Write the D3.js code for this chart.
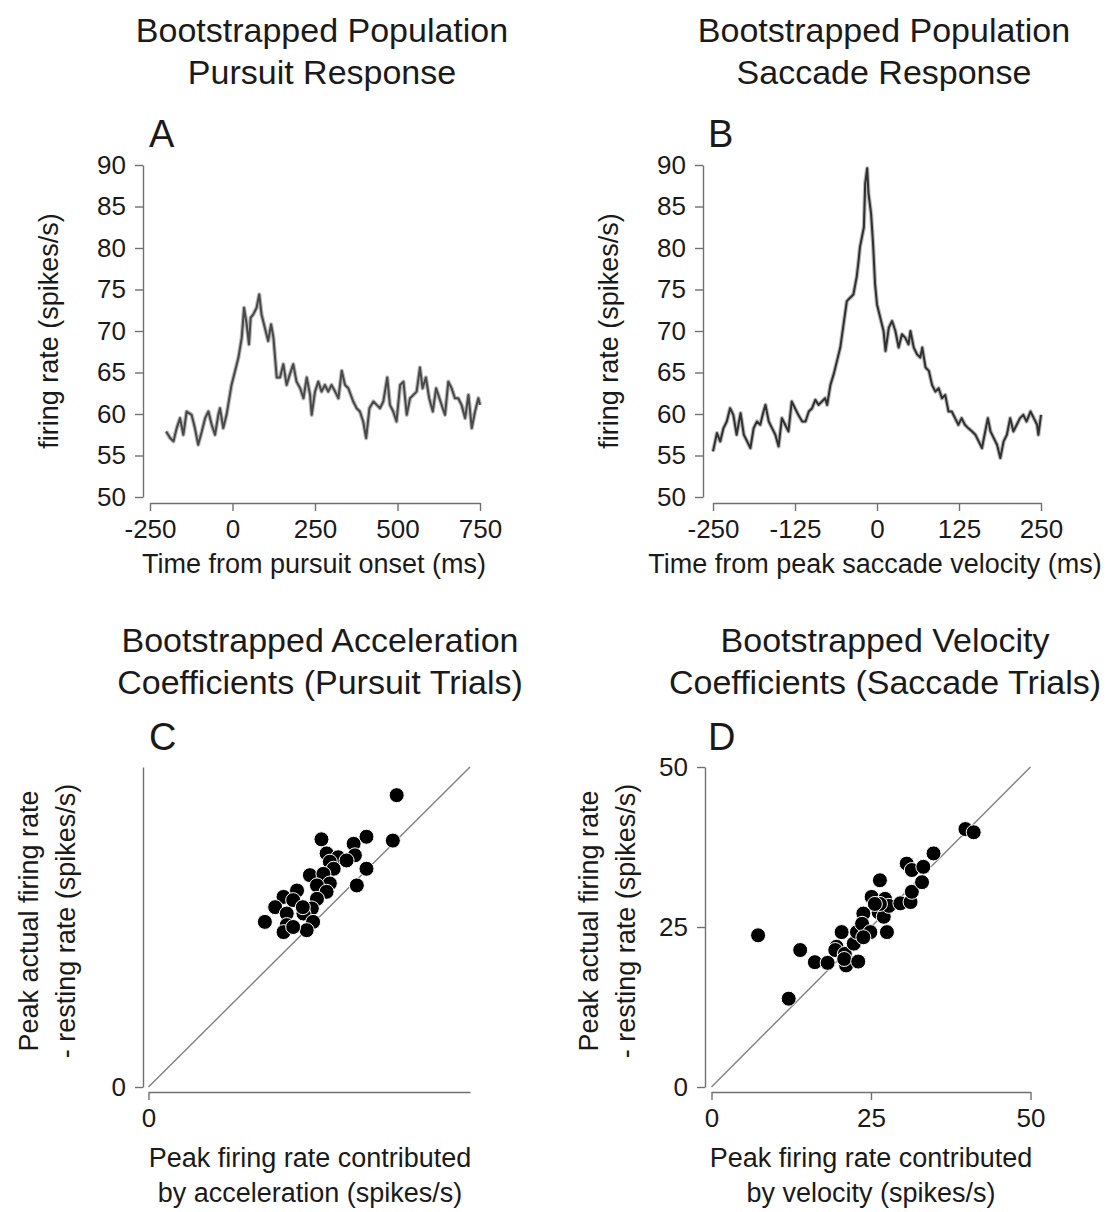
<!DOCTYPE html>
<html><head><meta charset="utf-8">
<script src="https://cdn.jsdelivr.net/npm/d3@7"></script>
<style>
html,body{margin:0;padding:0;background:#fff;}
svg{display:block;font-family:"Liberation Sans",Arial,sans-serif;}
</style></head>
<body>
<svg id="fig" width="1114" height="1212"></svg>
<script>
// ---------- DATA ----------
// Panel A: bootstrapped population pursuit response
const timeA = [-201,-189,-179,-169,-159,-149,-139,-124,-114,-104,
  -93,-83,-73,-63,-53,-43,-38,-28,-18,-13,
  -3,8,18,28,35,43,50,55,63,73,
  81,88,98,108,117,124,134,144,154,164,
  174,184,194,205,215,225,235,240,250,260,
  270,280,290,300,311,321,331,341,351,366,
  376,386,396,405,415,427,437,447,457,469,
  477,487,497,508,518,528,538,548,558,568,
  576,586,596,607,617,627,637,644,654,664,
  674,684,694,705,715,725,735,745,750];
const rateA = [57.9,57.1,56.7,58.3,59.5,57.5,60.3,59.9,58.3,56.3,
  57.9,59.5,60.3,58.7,57.5,59.9,60.7,58.3,59.9,61.1,
  63.5,65.2,66.8,69.2,72.8,70.8,68.4,71.6,72.0,72.8,
  74.4,72.0,70.4,68.8,70.8,69.2,64.4,64.4,66.0,63.5,
  64.8,66.0,63.9,63.1,61.9,64.4,62.3,59.9,62.7,63.9,
  62.7,63.5,62.7,63.5,62.7,61.9,65.2,63.5,63.1,61.5,
  60.7,60.3,59.1,57.1,60.7,61.5,61.1,60.7,61.5,64.4,
  61.1,60.3,59.1,63.5,63.9,59.9,61.9,62.3,62.7,65.6,
  63.1,64.4,61.9,60.3,63.1,61.9,60.7,59.9,63.9,63.1,
  61.9,61.9,61.1,59.5,62.3,58.3,60.3,61.9,61.1];

// Panel B: bootstrapped population saccade response
const timeB = [-250,-244,-239,-234,-229,-224,-219,-214,-208,-203,
  -198,-193,-188,-183,-178,-173,-170,-165,-160,-155,
  -150,-145,-140,-135,-130,-125,-120,-114,-109,-104,
  -99,-94,-89,-84,-79,-76,-71,-66,-61,-56,
  -51,-46,-41,-36,-31,-28,-26,-20,-18,-15,
  -13,-9,-6,-3,0,5,10,13,18,23,
  28,33,38,43,48,51,56,61,66,69,
  74,79,84,89,94,99,104,109,114,119,
  124,129,134,139,145,150,155,160,165,169,
  173,178,183,188,193,198,203,208,213,218,
  223,228,234,239,244,246,250];
const rateB = [55.5,57.7,56.7,58.3,59.1,60.7,59.9,57.5,60.1,57.5,
  56.7,55.9,58.3,59.1,58.7,60.3,61.1,59.1,58.3,57.5,
  56.1,59.5,58.7,57.9,61.5,60.7,59.9,59.1,59.1,60.3,
  60.7,61.7,61.1,61.5,61.9,61.1,63.5,64.8,66.4,68.0,
  70.8,73.6,74.0,74.4,76.5,78.5,80.1,82.5,87.8,89.6,
  86.6,84.1,80.5,75.7,73.2,71.6,70.0,67.6,70.4,71.2,
  70.0,68.0,69.6,69.2,68.4,70.0,68.0,67.2,66.8,68.0,
  65.6,65.2,63.5,62.7,63.1,61.9,62.3,60.3,60.3,59.5,
  58.7,59.5,58.7,58.3,57.9,57.5,56.7,55.9,57.9,59.5,
  57.9,57.1,56.3,54.7,56.7,57.5,59.5,57.9,58.7,59.5,
  59.9,59.1,60.3,59.5,58.7,57.5,59.9];

// Panel C: acceleration coefficients (pursuit trials)
const accelContrib = [38.6,38.0,33.9,31.9,32.1,33.9,32.4,26.9,27.7,29.5,30.8,28.2,28.8,25.1,27.2,28.2,26.2,
  23.1,27.7,21.0,22.5,26.2,19.7,21.5,25.4,24.1,18.1,21.5,25.6,21.0,24.6,22.5,24.0];
const accelActual = [45.6,38.5,39.1,38.0,36.2,34.1,31.5,38.7,36.5,35.9,35.4,35.2,34.1,33.1,33.3,31.8,31.5,
  30.7,30.5,29.7,29.2,29.4,28.1,27.1,27.9,27.1,25.8,25.3,25.8,24.2,24.5,25.0,28.1];

// Panel D: velocity coefficients (saccade trials)
const veloContrib = [7.3,12.1,13.9,16.2,18.2,19.6,19.4,20.4,20.9,21.1,20.8,23.0,22.3,22.8,23.8,23.6,24.9,25.1,
  26.2,26.4,27.2,27.5,27.0,27.8,29.6,31.2,31.4,30.6,31.4,33.0,33.2,34.8,39.8,41.1,26.4,25.6,23.8];
const veloActual = [23.7,13.8,21.4,19.5,19.4,21.9,21.4,24.2,20.8,19.0,20.0,19.6,22.4,24.2,27.1,25.5,24.2,29.7,
  27.3,32.3,29.4,24.2,26.6,28.3,28.7,28.9,30.5,34.9,33.9,32.0,34.4,36.5,40.3,39.8,28.6,28.6,23.4];

const ticksRate = [50,55,60,65,70,75,80,85,90];
const ticksTimeA = [-250,0,250,500,750];
const ticksTimeB = [-250,-125,0,125,250];
const ticksC = [0];
const ticksD = [0,25,50];

// ---------- DRAWING ----------
const svg = d3.select("#fig");
const AX = "#707070", TXT = "#1a1a1a";
const TICK_FS = 26, LAB_FS = 27, TITLE_FS = 34, LET_FS = 38;
const fmt = d => String(d);   // plain hyphen-minus, as in the reference

function styleAxis(g){
  g.select(".domain").attr("stroke", AX).attr("stroke-width", 1.4);
  g.selectAll(".tick line").attr("stroke", AX).attr("stroke-width", 1.4);
  g.selectAll(".tick text").attr("fill", TXT).style("font-size", TICK_FS+"px")
    .style("font-family", '"Liberation Sans", Arial, sans-serif');
}
function text(x, y, s, fs, anchor, rot){
  const t = svg.append("text").attr("x", x).attr("y", y).text(s)
    .attr("fill", TXT).style("font-size", fs+"px").attr("text-anchor", anchor||"middle");
  if (rot) t.attr("transform", `rotate(${rot},${x},${y})`);
  return t;
}

// Scales
const yA = d3.scaleLinear().domain([50,90]).range([497,165]);
const xA = d3.scaleLinear().domain([-250,750]).range([150,480]);
const yB = d3.scaleLinear().domain([50,90]).range([497,165]);
const xB = d3.scaleLinear().domain([-250,250]).range([713,1041]);
const xC = d3.scaleLinear().domain([0,50]).range([148.5,470]);
const yC = d3.scaleLinear().domain([0,50]).range([1087,767]);
const xD = d3.scaleLinear().domain([0,50]).range([711.5,1030.5]);
const yD = d3.scaleLinear().domain([0,50]).range([1087,767]);

function lineChart(x, y, xs, ys, xTicks, yAxisX, xAxisY, col){
  svg.append("g").attr("transform", `translate(${yAxisX},0)`)
    .call(d3.axisLeft(y).tickValues(ticksRate).tickSize(8).tickSizeOuter(0).tickPadding(9).tickFormat(fmt)).call(styleAxis);
  svg.append("g").attr("transform", `translate(0,${xAxisY})`)
    .call(d3.axisBottom(x).tickValues(xTicks).tickSize(8).tickSizeOuter(0).tickPadding(9).tickFormat(fmt)).call(styleAxis);
  const pts = xs.map((t,i)=>[t, ys[i]]);
  const ln = d3.line().x(d=>x(d[0])).y(d=>y(d[1]));
  svg.append("path").datum(pts).attr("d", ln).attr("fill","none")
    .attr("stroke", "#8a8a8a").attr("stroke-width", 4.2).attr("stroke-linejoin","round").attr("opacity",0.6);
  svg.append("path").datum(pts).attr("d", ln).attr("fill","none")
    .attr("stroke", col).attr("stroke-width", 2).attr("stroke-linejoin","round");
}
lineChart(xA, yA, timeA, rateA, ticksTimeA, 143, 503, "#484848");
lineChart(xB, yB, timeB, rateB, ticksTimeB, 703, 503, "#303030");

function scatter(x, y, xs, ys, ticks, yAxisX, xAxisY){
  svg.append("g").attr("transform", `translate(${yAxisX},0)`)
    .call(d3.axisLeft(y).tickValues(ticks).tickSize(8).tickSizeOuter(0).tickPadding(9).tickFormat(fmt)).call(styleAxis);
  svg.append("g").attr("transform", `translate(0,${xAxisY})`)
    .call(d3.axisBottom(x).tickValues(ticks).tickSize(8).tickSizeOuter(0).tickPadding(9).tickFormat(fmt)).call(styleAxis);
  const dom = x.domain();
  svg.append("line").attr("x1", x(dom[0])).attr("y1", y(dom[0])).attr("x2", x(dom[1])).attr("y2", y(dom[1]))
    .attr("stroke", "#808080").attr("stroke-width", 1.4);
  svg.append("g").selectAll("circle").data(xs.map((v,i)=>[v, ys[i]])).join("circle")
    .attr("cx", d=>x(d[0])).attr("cy", d=>y(d[1])).attr("r", 7.5)
    .attr("fill", "#000").attr("stroke", "#fff").attr("stroke-width", 1);
}
scatter(xC, yC, accelContrib, accelActual, ticksC, 143, 1092);
scatter(xD, yD, veloContrib, veloActual, ticksD, 705, 1092);

// Titles
text(322, 42, "Bootstrapped Population", TITLE_FS);
text(322, 84, "Pursuit Response", TITLE_FS);
text(884, 42, "Bootstrapped Population", TITLE_FS);
text(884, 84, "Saccade Response", TITLE_FS);
text(320, 652, "Bootstrapped Acceleration", TITLE_FS);
text(320, 694, "Coefficients (Pursuit Trials)", TITLE_FS);
text(885, 652, "Bootstrapped Velocity", TITLE_FS);
text(885, 694, "Coefficients (Saccade Trials)", TITLE_FS);

// Panel letters
text(149, 147, "A", LET_FS, "start");
text(708, 147, "B", LET_FS, "start");
text(149, 750, "C", LET_FS, "start");
text(708, 750, "D", LET_FS, "start");

// Axis labels
text(314, 573, "Time from pursuit onset (ms)", LAB_FS);
text(875, 573, "Time from peak saccade velocity (ms)", LAB_FS);
text(58, 331, "firing rate (spikes/s)", LAB_FS, "middle", -90);
text(618, 331, "firing rate (spikes/s)", LAB_FS, "middle", -90);

text(38, 921, "Peak actual firing rate", LAB_FS, "middle", -90);
text(75, 921, "- resting rate (spikes/s)", LAB_FS, "middle", -90);
text(598, 921, "Peak actual firing rate", LAB_FS, "middle", -90);
text(635, 921, "- resting rate (spikes/s)", LAB_FS, "middle", -90);

text(310, 1167, "Peak firing rate contributed", LAB_FS);
text(310, 1202, "by acceleration (spikes/s)", LAB_FS);
text(871, 1167, "Peak firing rate contributed", LAB_FS);
text(871, 1202, "by velocity (spikes/s)", LAB_FS);
</script>
</body></html>
